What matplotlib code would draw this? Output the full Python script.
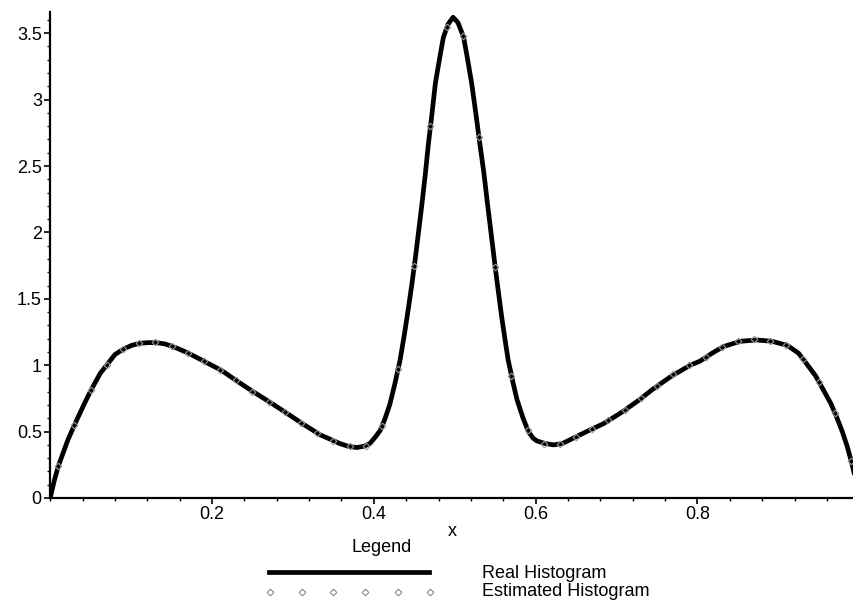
import matplotlib
matplotlib.use("Agg")
import matplotlib.pyplot as plt
from matplotlib.ticker import MultipleLocator, FixedLocator
from matplotlib.lines import Line2D

plt.rcParams['font.family'] = ['Liberation Sans', 'DejaVu Sans']

# Real histogram (curve)
real_x = [0.000, 0.005, 0.010, 0.016, 0.022, 0.033, 0.043, 0.052, 0.062, 0.071,
          0.080, 0.090, 0.101, 0.111, 0.121, 0.131, 0.142, 0.156, 0.171, 0.190,
          0.212, 0.231, 0.251, 0.272, 0.292, 0.313, 0.334, 0.347, 0.358, 0.368,
          0.379, 0.388, 0.395, 0.402, 0.408, 0.414, 0.420, 0.426, 0.4325, 0.438,
          0.443, 0.447, 0.451, 0.455, 0.459, 0.4635, 0.4675, 0.472, 0.476, 0.481,
          0.486, 0.492, 0.498, 0.504, 0.511, 0.516, 0.521, 0.526, 0.531, 0.536,
          0.540, 0.545, 0.550, 0.554, 0.558, 0.562, 0.566, 0.572, 0.577, 0.584,
          0.591, 0.597, 0.6015, 0.612, 0.622, 0.633, 0.643, 0.663, 0.684, 0.705,
          0.725, 0.745, 0.766, 0.791, 0.803, 0.818, 0.832, 0.853, 0.8735, 0.892,
          0.911, 0.925, 0.935, 0.946, 0.956, 0.965, 0.972, 0.979, 0.985, 0.990,
          0.994]
real_y = [0.00, 0.13, 0.24, 0.34, 0.44, 0.59, 0.72, 0.83, 0.94, 1.01,
          1.08, 1.12, 1.15, 1.165, 1.17, 1.17, 1.16, 1.13, 1.09, 1.03,
          0.96, 0.88, 0.80, 0.72, 0.64, 0.555, 0.475, 0.44, 0.41, 0.39,
          0.38, 0.39, 0.41, 0.46, 0.51, 0.60, 0.71, 0.86, 1.04, 1.24,
          1.44, 1.61, 1.79, 1.99, 2.19, 2.43, 2.67, 2.90, 3.12, 3.30,
          3.47, 3.57, 3.62, 3.58, 3.47, 3.30, 3.12, 2.90, 2.67, 2.45,
          2.24, 1.99, 1.74, 1.55, 1.365, 1.20, 1.04, 0.87, 0.74, 0.61,
          0.50, 0.45, 0.43, 0.41, 0.40, 0.41, 0.44, 0.50, 0.56, 0.64,
          0.725, 0.82, 0.91, 1.00, 1.03, 1.09, 1.14, 1.18, 1.19, 1.18,
          1.15, 1.09, 1.01, 0.92, 0.81, 0.71, 0.61, 0.50, 0.39, 0.28,
          0.18]

# Estimated histogram (points)
est_x = [0.01, 0.03, 0.05, 0.07, 0.09, 0.11, 0.13, 0.15, 0.17, 0.19,
         0.21, 0.23, 0.25, 0.27, 0.29, 0.31, 0.33, 0.35, 0.37, 0.39,
         0.41, 0.43, 0.45, 0.47, 0.49, 0.51, 0.53, 0.55, 0.57, 0.59,
         0.61, 0.63, 0.65, 0.67, 0.69, 0.71, 0.73, 0.75, 0.77, 0.79,
         0.81, 0.83, 0.85, 0.87, 0.89, 0.91, 0.93, 0.95, 0.97, 0.99]
est_y = [0.24, 0.55, 0.81, 1.00, 1.12, 1.165, 1.175, 1.145, 1.095, 1.03,
         0.965, 0.885, 0.80, 0.725, 0.645, 0.565, 0.49, 0.43, 0.39, 0.39,
         0.54, 0.97, 1.75, 2.80, 3.55, 3.48, 2.72, 1.74, 0.92, 0.51,
         0.41, 0.41, 0.46, 0.52, 0.585, 0.66, 0.75, 0.84, 0.93, 1.00,
         1.06, 1.14, 1.18, 1.20, 1.18, 1.15, 1.05, 0.87, 0.64, 0.28]

x_major = [0.2, 0.4, 0.6, 0.8]
y_major = [0, 0.5, 1, 1.5, 2, 2.5, 3, 3.5]
y_labels = ['0', '0.5', '1', '1.5', '2', '2.5', '3', '3.5']
legend_labels = ['Real Histogram', 'Estimated Histogram']

FS = 13

fig = plt.figure(figsize=(8.54, 6.0), dpi=100)
ax = fig.add_axes([50.2 / 854, 1 - 498 / 600, (854 - 50.2) / 854, (498 - 11.7) / 600])

ax.plot(real_x, real_y, color='black', linewidth=3.4, solid_joinstyle='round', zorder=2)
ax.plot(est_x, est_y, linestyle='none', marker='D', markersize=3.4,
        markerfacecolor='none', markeredgecolor='#9a9a9a', markeredgewidth=0.8, zorder=3)

ax.set_xlim(0, 0.9935)
ax.set_ylim(0, 3.662)

for s in ['top', 'right']:
    ax.spines[s].set_visible(False)
for s in ['left', 'bottom']:
    ax.spines[s].set_linewidth(1.6)
    ax.spines[s].set_color('black')

ax.xaxis.set_major_locator(FixedLocator(x_major))
ax.set_xticklabels([f'{v:.1f}' for v in x_major])
ax.xaxis.set_minor_locator(MultipleLocator(0.04))
ax.yaxis.set_major_locator(FixedLocator(y_major))
ax.set_yticklabels(y_labels)
ax.yaxis.set_minor_locator(MultipleLocator(0.1))

ax.tick_params(axis='both', which='major', direction='out', length=4, width=1.2,
               labelsize=FS, color='black', pad=2)
ax.tick_params(axis='both', which='minor', direction='out', length=2.5, width=1.0, color='black')
ax.tick_params(axis='y', which='major', pad=2)

ax.set_xlabel('x', fontsize=FS, labelpad=0)

# Legend block (drawn manually to match layout)
fig.text(381.7 / 854, 1 - 548 / 600, 'Legend', ha='center', va='center', fontsize=FS)
fig.add_artist(Line2D([269 / 854, 429 / 854], [1 - 572 / 600, 1 - 572 / 600],
                      color='black', linewidth=3.4, transform=fig.transFigure))
mx = [270, 301.7, 333, 365, 398, 430]
fig.add_artist(Line2D([m / 854 for m in mx], [1 - 591.7 / 600] * len(mx), linestyle='none',
                      marker='D', markersize=3.4, markerfacecolor='none',
                      markeredgecolor='#8a8a8a', markeredgewidth=0.8,
                      transform=fig.transFigure))
fig.text(481.7 / 854, 1 - 573 / 600, legend_labels[0], ha='left', va='center', fontsize=FS)
fig.text(481.7 / 854, 1 - 591.5 / 600, legend_labels[1], ha='left', va='center', fontsize=FS)

fig.savefig('out.png', dpi=100)
